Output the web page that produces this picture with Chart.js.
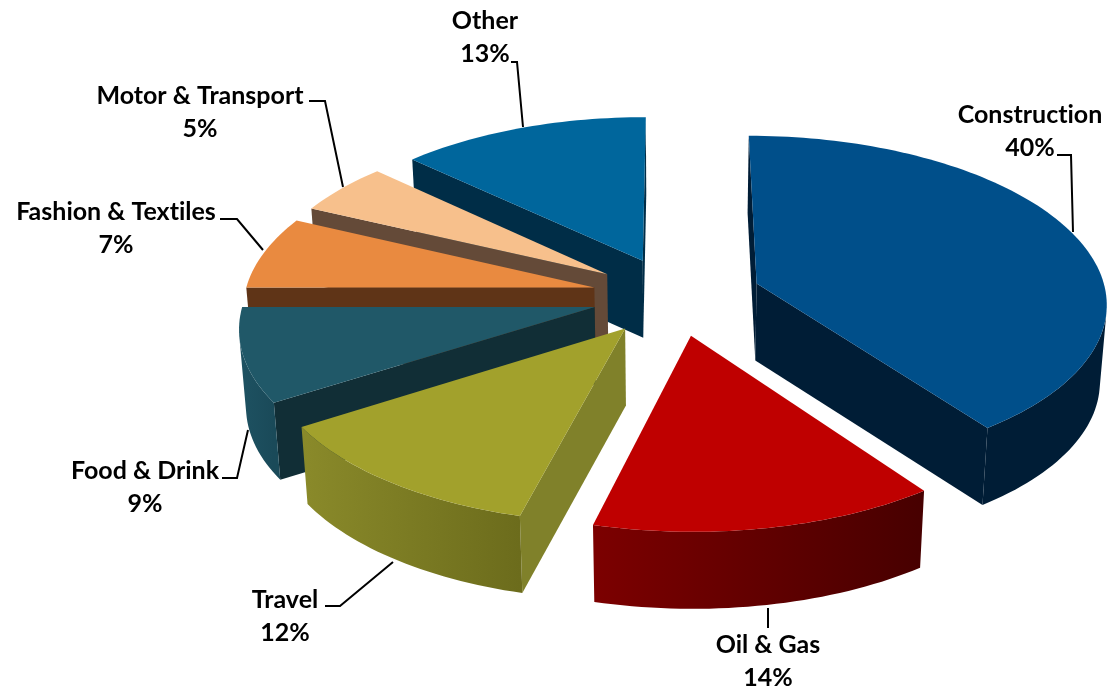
<!DOCTYPE html>
<html>
<head>
<meta charset="utf-8">
<title>Sector split</title>
<script src="https://cdn.jsdelivr.net/npm/chart.js@4"></script>
<style>
    html, body { margin: 0; background: #ffffff; }
    canvas { display: block; }
</style>
</head>
<body>
<canvas id="sectorChart" width="1108" height="691"></canvas>
<script>
// Chart data
const categories = ['Construction', 'Oil & Gas', 'Travel', 'Food & Drink', 'Fashion & Textiles', 'Motor & Transport', 'Other'];
const shares = [40, 14, 12, 9, 7, 5, 13];

// Slice colours: top face, and outer wall from its left end to its right end, and the cut faces
const topColors = ['#004f8a', '#bf0000', '#a2a12c', '#205868', '#e98a40', '#f7c08c', '#00669c'];
const wallLeft = ['#001d36', '#7c0000', '#8a8a2a', '#1e5262', '#5f3417', '#644a38', '#002d47'];
const wallRight = ['#001d36', '#470000', '#6c6c1c', '#1a4a59', '#5f3417', '#644a38', '#002d47'];
const cutColors = ['#001d36', '#4a0000', '#80812a', '#112e36', '#5f3417', '#644a38', '#002d47'];

// How far each slice is pulled out of the pie
const sliceOffsets = [76, 73, 73, 73, 73, 73, 73];

// Where each label sits and how its leader line runs
const labelCentres = [[1030, 115], [768, 645], [285, 600], [145, 471], [116, 212], [200, 96], [485, 21]];
const leaderLines = [
    [[1057, 155], [1071, 155], [1073, 232]],
    [[768, 608], [768, 628]],
    [[325, 606], [340, 606], [393, 562]],
    [[222, 478], [237, 478], [248, 430]],
    [[220, 219], [237, 219], [263, 250]],
    [[309, 101], [325, 101], [343, 187]],
    [[511, 62], [517, 62], [523, 127]]
];

// Tilted view of the pie
const view = { cx: 675, cy: 296, rx: 350, ry: 166, perspective: 0.107, depth: 77, taper: 0.016 };

function project(u, v, z) {
    const k = 1 / (1 - view.perspective * v);
    return {
        x: view.cx + view.rx * u * k * (1 - view.taper * z),
        y: view.cy + view.ry * v * k + view.depth * z
    };
}

function tracePolygon(ctx, points) {
    ctx.beginPath();
    points.forEach((p, i) => (i ? ctx.lineTo(p.x, p.y) : ctx.moveTo(p.x, p.y)));
    ctx.closePath();
}

// Positive when the points run clockwise on screen
function signedArea(points) {
    let area = 0;
    points.forEach((p, i) => {
        const q = points[(i + 1) % points.length];
        area += p.x * q.y - q.x * p.y;
    });
    return area;
}

function fillFace(ctx, points, fill) {
    tracePolygon(ctx, points);
    ctx.fillStyle = fill;
    ctx.fill();
}

// Draw one arc element as an extruded wedge
function drawWedge(ctx, arc, index) {
    const { startAngle, endAngle, outerRadius, options } = arc;
    const mid = (startAngle + endAngle) / 2;
    const shift = options.offset / outerRadius;
    const apexU = Math.cos(mid) * shift;
    const apexV = Math.sin(mid) * shift;

    const rim = [];
    const steps = Math.ceil((endAngle - startAngle) * 40);
    for (let i = 0; i <= steps; i++) {
        const a = startAngle + (endAngle - startAngle) * i / steps;
        rim.push([apexU + Math.cos(a), apexV + Math.sin(a)]);
    }
    const apexTop = project(apexU, apexV, 0);
    const apexBottom = project(apexU, apexV, 1);
    const rimTop = rim.map(r => project(r[0], r[1], 0));
    const rimBottom = rim.map(r => project(r[0], r[1], 1));
    const last = rim.length - 1;

    // Cut faces
    const startFace = [apexTop, rimTop[0], rimBottom[0], apexBottom];
    const endFace = [apexBottom, rimBottom[last], rimTop[last], apexTop];
    [startFace, endFace].forEach(face => {
        if (signedArea(face) < 0) fillFace(ctx, face, cutColors[index]);
    });

    // Outer wall, only the part that faces the viewer
    let from = -1;
    let to = -1;
    for (let i = 0; i < last; i++) {
        const facing = signedArea([rimTop[i + 1], rimTop[i], rimBottom[i], rimBottom[i + 1]]) > 0;
        if (facing) {
            if (from < 0) from = i;
            to = i + 1;
        }
    }
    if (from >= 0) {
        const upper = rimTop.slice(from, to + 1);
        const lower = rimBottom.slice(from, to + 1).reverse();
        const xs = upper.map(p => p.x);
        const gradient = ctx.createLinearGradient(Math.min(...xs), 0, Math.max(...xs), 0);
        gradient.addColorStop(0, wallLeft[index]);
        gradient.addColorStop(1, wallRight[index]);
        fillFace(ctx, upper.concat(lower), gradient);
    }

    // Top face
    fillFace(ctx, [apexTop].concat(rimTop), topColors[index]);
}

// Replaces the flat arcs of the doughnut controller with wedges, back ones first
const tiltedPie = {
    id: 'tiltedPie',
    beforeDatasetDraw(chart, args) {
        const ctx = chart.ctx;
        const arcs = args.meta.data.map((arc, index) => ({ arc, index }));
        arcs.sort((a, b) => {
            const depthOf = e => Math.sin((e.arc.startAngle + e.arc.endAngle) / 2);
            return depthOf(a) - depthOf(b);
        });
        ctx.save();
        arcs.forEach(e => drawWedge(ctx, e.arc, e.index));
        ctx.restore();
        return false;
    }
};

// Category names, percentages and leader lines
const sliceLabels = {
    id: 'sliceLabels',
    afterDatasetsDraw(chart) {
        const ctx = chart.ctx;
        ctx.save();
        ctx.strokeStyle = '#000000';
        ctx.lineWidth = 2;
        leaderLines.forEach(line => {
            ctx.beginPath();
            line.forEach((p, i) => (i ? ctx.lineTo(p[0], p[1]) : ctx.moveTo(p[0], p[1])));
            ctx.stroke();
        });
        ctx.fillStyle = '#000000';
        ctx.font = 'bold 25px Lato';
        ctx.textRendering = 'optimizeSpeed';
        ctx.textAlign = 'center';
        ctx.textBaseline = 'middle';
        categories.forEach((name, i) => {
            const [x, y] = labelCentres[i];
            ctx.fillText(name, x, y);
            ctx.fillText(shares[i] + '%', x, y + 33);
        });
        ctx.restore();
    }
};

new Chart(document.getElementById('sectorChart').getContext('2d'), {
    type: 'pie',
    data: {
        labels: categories,
        datasets: [{
            data: shares,
            backgroundColor: topColors,
            borderWidth: 0,
            offset: sliceOffsets
        }]
    },
    options: {
        responsive: false,
        animation: false,
        rotation: 0,
        plugins: {
            legend: { display: false },
            tooltip: { enabled: false }
        }
    },
    plugins: [tiltedPie, sliceLabels]
});
</script>
</body>
</html>
